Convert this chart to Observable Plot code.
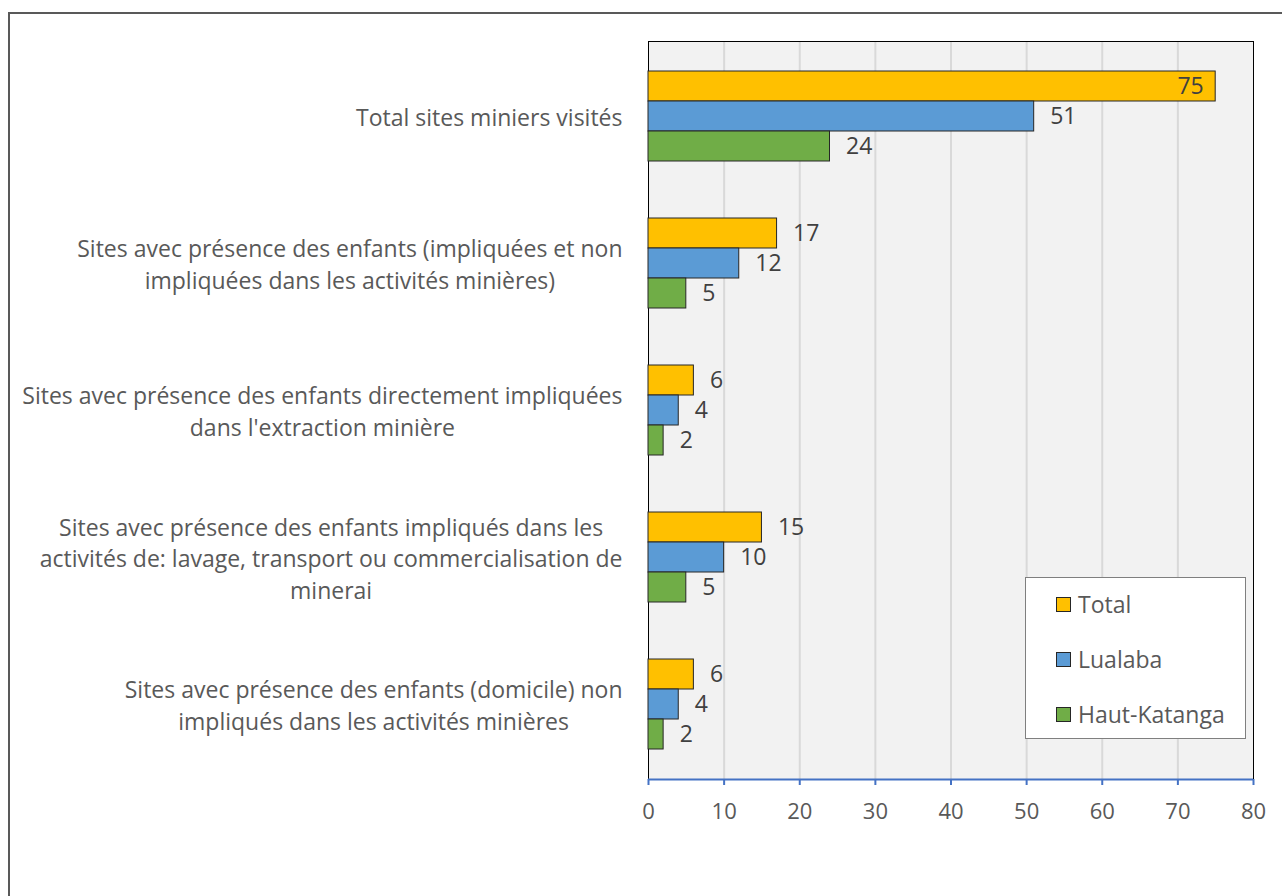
<!DOCTYPE html>
<html><head><meta charset="utf-8">
<script src="https://cdn.jsdelivr.net/npm/d3@7"></script>
<script src="https://cdn.jsdelivr.net/npm/@observablehq/plot@0.6"></script>
<style>
html,body{margin:0;padding:0;background:#fff;}
#wrap{position:relative;width:1282px;height:896px;overflow:hidden;}
#border{position:absolute;left:8px;top:12px;width:1320px;height:940px;border:2px solid #595959;box-sizing:border-box;}
#legend{position:absolute;left:1025px;top:577px;width:221px;height:162px;background:#fff;border:1px solid #7f7f7f;box-sizing:border-box;
  font-family:"Open Sans";font-size:23px;color:#595959;}
#legend .item{position:absolute;left:30px;display:flex;align-items:center;height:30px;}
#legend .sw{width:15px;height:15px;border:1px solid #262626;box-sizing:border-box;margin-right:7px;}
</style></head><body>
<div id="wrap"><div id="border"></div></div>
<script>
const categories = [
  "Total sites miniers visités",
  "Sites avec présence des enfants (impliquées et non\nimpliquées dans les activités minières)",
  "Sites avec présence des enfants directement impliquées\ndans l'extraction minière",
  "Sites avec présence des enfants impliqués dans les\nactivités de: lavage, transport ou commercialisation de\nminerai",
  "Sites avec présence des enfants (domicile) non\nimpliqués dans les activités minières"
];
const series = ["Total", "Lualaba", "Haut-Katanga"];
const totalValues = [75, 17, 6, 15, 6];
const lualabaValues = [51, 12, 4, 10, 4];
const hautKatangaValues = [24, 5, 2, 5, 2];
const colors = ["#ffc000", "#5b9bd5", "#70ad47"];
const xTicks = [0, 10, 20, 30, 40, 50, 60, 70, 80];

const seriesValues = [totalValues, lualabaValues, hautKatangaValues];
const data = [];
categories.forEach((c, i) => series.forEach((s, j) => data.push({category: c, series: s, value: seriesValues[j][i]})));

const FONT = "Open Sans";
const LABEL_SIZE = 23;
const dims = {width: 1282, height: 896, marginLeft: 648, marginRight: 29, marginTop: 41, marginBottom: 117};
const baseStyle = {fontFamily: FONT, fontSize: "23px", color: "#595959", background: "transparent", overflow: "visible"};

function measure(str) {
  const svg = d3.select("body").append("svg").attr("width", 10).attr("height", 10);
  const t = svg.append("text").style("font-family", FONT).style("font-size", LABEL_SIZE + "px");
  const w = d3.max(str.split("\n"), s => { t.text(s); return t.node().getComputedTextLength(); });
  svg.remove();
  return w;
}

const back = Plot.plot({
  ...dims,
  style: {...baseStyle, fontSize: "22px"},
  x: {domain: [0, 80], axis: null},
  y: {domain: [0, 1], axis: null},
  marks: [
    Plot.frame({fill: "#f2f2f2", stroke: "none"}),
    Plot.gridX(xTicks.filter(v => v > 0 && v < 80), {stroke: "#d9d9d9", strokeWidth: 2, strokeOpacity: 1}),
    Plot.frame({stroke: "#000", strokeWidth: 1, fill: "none"}),
    Plot.ruleY([0], {stroke: "#4472c4", strokeWidth: 2}),
    Plot.axisX({ticks: xTicks, tickSize: 6, tickPadding: 18, stroke: "#4472c4", strokeWidth: 2, fill: "#595959", label: null, tickFormat: d => String(d)})
  ]
});

const labelMarks = categories.map(c => Plot.text([c], {
  fy: d => d, text: d => d, frameAnchor: "left", textAnchor: "middle",
  lineHeight: 1.37, fill: "#595959", dx: -(26 + measure(c) / 2)
}));

const front = Plot.plot({
  ...dims,
  style: baseStyle,
  x: {domain: [0, 80], axis: null},
  fy: {domain: categories, paddingInner: 0.38, paddingOuter: 0.19, axis: null},
  y: {domain: series, padding: 0, axis: null},
  color: {domain: series, range: colors},
  marks: [
    Plot.barX(data, {fy: "category", y: "series", x: "value", fill: "series", stroke: "#262626", strokeWidth: 1}),
    Plot.text(data, {filter: d => d.value < 70, fy: "category", y: "series", x: "value", text: d => String(d.value), textAnchor: "start", dx: 16, fill: "#404040"}),
    Plot.text(data, {filter: d => d.value >= 70, fy: "category", y: "series", x: "value", text: d => String(d.value), textAnchor: "end", dx: -12, fill: "#404040"}),
    ...labelMarks
  ]
});

const wrap = document.getElementById("wrap");
[back, front].forEach(el => { el.style.position = "absolute"; el.style.left = "0"; el.style.top = "0"; wrap.appendChild(el); });

const legend = document.createElement("div");
legend.id = "legend";
series.forEach((s, i) => {
  const item = document.createElement("div");
  item.className = "item";
  item.style.top = (11 + i * 55) + "px";
  const sw = document.createElement("div");
  sw.className = "sw";
  sw.style.background = colors[i];
  const tx = document.createElement("span");
  tx.textContent = s;
  item.appendChild(sw); item.appendChild(tx);
  legend.appendChild(item);
});
wrap.appendChild(legend);
</script>
</body></html>
